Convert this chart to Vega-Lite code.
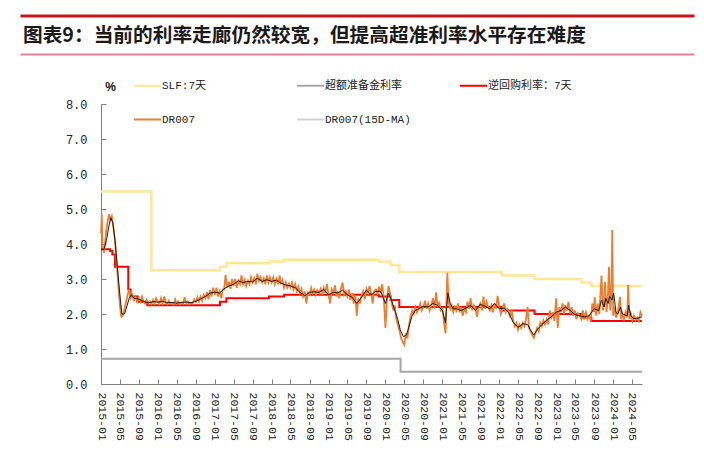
{
"$schema": "https://vega.github.io/schema/vega-lite/v6.json",
"width": 541, "height": 280,
"autosize": {"type": "none"},
"padding": {"left": 101, "top": 104, "right": 62, "bottom": 68},
"background": "white",
"title": {"text": "图表9：当前的利率走廊仍然较宽，但提高超准利率水平存在难度", "anchor": "start", "frame": "group", "dx": -78, "dy": 30, "offset": 0, "font": "Noto Sans CJK SC", "fontSize": 19.7, "fontWeight": "bold", "color": "#1a1a1a"},
"datasets": {
"slf": [{"d":"2015-01-01","v":5.5},{"d":"2015-11-20","v":3.25},{"d":"2017-02-03","v":3.35},{"d":"2017-03-16","v":3.45},{"d":"2017-12-14","v":3.5},{"d":"2018-03-22","v":3.55},{"d":"2019-11-18","v":3.5},{"d":"2020-02-03","v":3.4},{"d":"2020-03-30","v":3.2},{"d":"2022-01-17","v":3.1},{"d":"2022-08-15","v":3.0},{"d":"2023-06-13","v":2.9},{"d":"2023-08-15","v":2.8},{"d":"2024-07-04","v":2.8}],
"ior": [{"d":"2015-01-01","v":0.72},{"d":"2020-04-07","v":0.35},{"d":"2024-07-04","v":0.35}],
"rr": [{"d":"2015-01-01","v":3.85},{"d":"2015-03-01","v":3.8},{"d":"2015-03-15","v":3.7},{"d":"2015-04-01","v":3.35},{"d":"2015-06-25","v":2.7},{"d":"2015-07-10","v":2.5},{"d":"2015-08-25","v":2.35},{"d":"2015-10-25","v":2.25},{"d":"2017-02-03","v":2.35},{"d":"2017-03-16","v":2.45},{"d":"2017-12-14","v":2.5},{"d":"2018-03-22","v":2.55},{"d":"2019-11-18","v":2.5},{"d":"2020-02-03","v":2.4},{"d":"2020-03-30","v":2.2},{"d":"2022-01-17","v":2.1},{"d":"2022-08-15","v":2.0},{"d":"2023-06-13","v":1.9},{"d":"2023-08-15","v":1.8},{"d":"2024-07-04","v":1.8}],
"dr": [
{"d":"2015-01-01","v":4.3},{"d":"2015-01-06","v":4.85},{"d":"2015-01-11","v":3.9},{"d":"2015-01-21","v":3.75},
{"d":"2015-02-01","v":4.3},{"d":"2015-02-11","v":4.6},{"d":"2015-02-21","v":4.85},
{"d":"2015-03-01","v":4.7},{"d":"2015-03-11","v":4.8},{"d":"2015-03-21","v":4.5},
{"d":"2015-04-01","v":4.1},{"d":"2015-04-11","v":3.5},{"d":"2015-04-21","v":2.9},
{"d":"2015-05-01","v":2.3},{"d":"2015-05-11","v":1.92},{"d":"2015-05-21","v":1.95},
{"d":"2015-06-01","v":2.15},{"d":"2015-06-11","v":2.35},{"d":"2015-06-21","v":2.55},
{"d":"2015-07-01","v":2.7},{"d":"2015-07-11","v":2.45},{"d":"2015-07-21","v":2.55},
{"d":"2015-08-01","v":2.4},{"d":"2015-08-11","v":2.5},{"d":"2015-08-21","v":2.35},
{"d":"2015-09-01","v":2.45},{"d":"2015-09-11","v":2.35},{"d":"2015-09-21","v":2.5},
{"d":"2015-10-01","v":2.35},{"d":"2015-10-11","v":2.3},{"d":"2015-10-21","v":2.4},
{"d":"2015-11-01","v":2.3},{"d":"2015-11-11","v":2.36},{"d":"2015-11-21","v":2.28},
{"d":"2015-12-01","v":2.4},{"d":"2015-12-11","v":2.3},{"d":"2015-12-21","v":2.45},
{"d":"2016-01-01","v":2.35},{"d":"2016-01-11","v":2.28},{"d":"2016-01-21","v":2.45},
{"d":"2016-02-01","v":2.3},{"d":"2016-02-11","v":2.5},{"d":"2016-02-21","v":2.32},
{"d":"2016-03-01","v":2.28},{"d":"2016-03-11","v":2.38},{"d":"2016-03-21","v":2.3},
{"d":"2016-04-01","v":2.32},{"d":"2016-04-11","v":2.27},{"d":"2016-04-21","v":2.42},
{"d":"2016-05-01","v":2.3},{"d":"2016-05-11","v":2.36},{"d":"2016-05-21","v":2.28},
{"d":"2016-06-01","v":2.33},{"d":"2016-06-11","v":2.3},{"d":"2016-06-21","v":2.48},
{"d":"2016-07-01","v":2.3},{"d":"2016-07-11","v":2.36},{"d":"2016-07-21","v":2.28},
{"d":"2016-08-01","v":2.32},{"d":"2016-08-11","v":2.3},{"d":"2016-08-21","v":2.42},
{"d":"2016-09-01","v":2.35},{"d":"2016-09-11","v":2.48},{"d":"2016-09-21","v":2.36},
{"d":"2016-10-01","v":2.5},{"d":"2016-10-11","v":2.38},{"d":"2016-10-21","v":2.55},
{"d":"2016-11-01","v":2.45},{"d":"2016-11-11","v":2.62},{"d":"2016-11-21","v":2.42},
{"d":"2016-12-01","v":2.68},{"d":"2016-12-11","v":2.5},{"d":"2016-12-21","v":2.75},
{"d":"2017-01-01","v":2.55},{"d":"2017-01-11","v":2.75},{"d":"2017-01-21","v":2.5},
{"d":"2017-02-01","v":2.65},{"d":"2017-02-11","v":2.45},{"d":"2017-02-21","v":2.7},
{"d":"2017-03-01","v":2.7},{"d":"2017-03-11","v":3.12},{"d":"2017-03-21","v":2.75},
{"d":"2017-04-01","v":2.92},{"d":"2017-04-11","v":2.72},{"d":"2017-04-21","v":3.0},
{"d":"2017-05-01","v":2.8},{"d":"2017-05-11","v":3.0},{"d":"2017-05-21","v":2.75},
{"d":"2017-06-01","v":2.95},{"d":"2017-06-11","v":2.85},{"d":"2017-06-21","v":3.1},
{"d":"2017-07-01","v":2.85},{"d":"2017-07-11","v":2.97},{"d":"2017-07-21","v":2.8},
{"d":"2017-08-01","v":2.95},{"d":"2017-08-11","v":2.85},{"d":"2017-08-21","v":3.05},
{"d":"2017-09-01","v":2.9},{"d":"2017-09-11","v":3.02},{"d":"2017-09-21","v":2.85},
{"d":"2017-10-01","v":3.15},{"d":"2017-10-11","v":2.95},{"d":"2017-10-21","v":3.05},
{"d":"2017-11-01","v":2.9},{"d":"2017-11-11","v":3.02},{"d":"2017-11-21","v":2.85},
{"d":"2017-12-01","v":3.1},{"d":"2017-12-11","v":2.9},{"d":"2017-12-21","v":3.05},
{"d":"2018-01-01","v":2.9},{"d":"2018-01-11","v":3.05},{"d":"2018-01-21","v":2.85},
{"d":"2018-02-01","v":3.0},{"d":"2018-02-11","v":2.85},{"d":"2018-02-21","v":3.1},
{"d":"2018-03-01","v":2.85},{"d":"2018-03-11","v":2.97},{"d":"2018-03-21","v":2.75},
{"d":"2018-04-01","v":2.9},{"d":"2018-04-11","v":2.75},{"d":"2018-04-21","v":2.87},
{"d":"2018-05-01","v":2.75},{"d":"2018-05-11","v":2.9},{"d":"2018-05-21","v":2.7},
{"d":"2018-06-01","v":2.85},{"d":"2018-06-11","v":2.65},{"d":"2018-06-21","v":2.78},
{"d":"2018-07-01","v":2.6},{"d":"2018-07-11","v":2.72},{"d":"2018-07-21","v":2.5},
{"d":"2018-08-01","v":2.65},{"d":"2018-08-11","v":2.3},{"d":"2018-08-21","v":2.6},
{"d":"2018-09-01","v":2.55},{"d":"2018-09-11","v":2.75},{"d":"2018-09-21","v":2.6},
{"d":"2018-10-01","v":2.7},{"d":"2018-10-11","v":2.55},{"d":"2018-10-21","v":2.68},
{"d":"2018-11-01","v":2.6},{"d":"2018-11-11","v":2.72},{"d":"2018-11-21","v":2.55},
{"d":"2018-12-01","v":2.75},{"d":"2018-12-11","v":2.6},{"d":"2018-12-21","v":2.85},
{"d":"2019-01-01","v":2.55},{"d":"2019-01-11","v":2.3},{"d":"2019-01-21","v":2.7},
{"d":"2019-02-01","v":2.6},{"d":"2019-02-11","v":2.82},{"d":"2019-02-21","v":2.5},
{"d":"2019-03-01","v":2.65},{"d":"2019-03-11","v":2.45},{"d":"2019-03-21","v":2.72},
{"d":"2019-04-01","v":2.9},{"d":"2019-04-11","v":2.55},{"d":"2019-04-21","v":2.65},
{"d":"2019-05-01","v":2.5},{"d":"2019-05-11","v":2.7},{"d":"2019-05-21","v":2.4},
{"d":"2019-06-01","v":2.6},{"d":"2019-06-11","v":2.3},{"d":"2019-06-21","v":2.55},
{"d":"2019-07-01","v":1.95},{"d":"2019-07-11","v":2.45},{"d":"2019-07-21","v":2.3},
{"d":"2019-08-01","v":2.55},{"d":"2019-08-11","v":2.65},{"d":"2019-08-21","v":2.42},
{"d":"2019-09-01","v":2.72},{"d":"2019-09-11","v":2.6},{"d":"2019-09-21","v":2.8},
{"d":"2019-10-01","v":2.6},{"d":"2019-10-11","v":2.3},{"d":"2019-10-21","v":2.65},
{"d":"2019-11-01","v":2.7},{"d":"2019-11-11","v":2.55},{"d":"2019-11-21","v":2.78},
{"d":"2019-12-01","v":2.6},{"d":"2019-12-11","v":2.85},{"d":"2019-12-21","v":2.5},
{"d":"2020-01-01","v":1.6},{"d":"2020-01-11","v":2.45},{"d":"2020-01-21","v":2.8},
{"d":"2020-02-01","v":2.55},{"d":"2020-02-11","v":2.3},{"d":"2020-02-21","v":2.1},
{"d":"2020-03-01","v":2.25},{"d":"2020-03-11","v":1.85},{"d":"2020-03-21","v":1.7},
{"d":"2020-04-01","v":1.5},{"d":"2020-04-11","v":1.3},{"d":"2020-04-21","v":1.2},
{"d":"2020-05-01","v":1.12},{"d":"2020-05-11","v":1.45},{"d":"2020-05-21","v":1.3},
{"d":"2020-06-01","v":1.7},{"d":"2020-06-11","v":1.95},{"d":"2020-06-21","v":2.1},
{"d":"2020-07-01","v":2.0},{"d":"2020-07-11","v":2.2},{"d":"2020-07-21","v":2.05},
{"d":"2020-08-01","v":2.15},{"d":"2020-08-11","v":2.3},{"d":"2020-08-21","v":2.1},
{"d":"2020-09-01","v":2.2},{"d":"2020-09-11","v":2.38},{"d":"2020-09-21","v":2.15},
{"d":"2020-10-01","v":2.3},{"d":"2020-10-11","v":2.1},{"d":"2020-10-21","v":2.25},
{"d":"2020-11-01","v":2.45},{"d":"2020-11-11","v":2.15},{"d":"2020-11-21","v":2.62},
{"d":"2020-12-01","v":2.2},{"d":"2020-12-11","v":2.35},{"d":"2020-12-21","v":2.1},
{"d":"2021-01-01","v":2.15},{"d":"2021-01-11","v":1.75},{"d":"2021-01-21","v":1.45},
{"d":"2021-02-01","v":3.18},{"d":"2021-02-11","v":2.3},{"d":"2021-02-21","v":2.15},
{"d":"2021-03-01","v":2.25},{"d":"2021-03-11","v":2.05},{"d":"2021-03-21","v":2.2},
{"d":"2021-04-01","v":2.1},{"d":"2021-04-11","v":2.3},{"d":"2021-04-21","v":2.05},
{"d":"2021-05-01","v":2.2},{"d":"2021-05-11","v":1.95},{"d":"2021-05-21","v":2.15},
{"d":"2021-06-01","v":2.05},{"d":"2021-06-11","v":2.35},{"d":"2021-06-21","v":2.15},
{"d":"2021-07-01","v":2.45},{"d":"2021-07-11","v":2.1},{"d":"2021-07-21","v":2.25},
{"d":"2021-08-01","v":2.15},{"d":"2021-08-11","v":1.92},{"d":"2021-08-21","v":2.2},
{"d":"2021-09-01","v":2.3},{"d":"2021-09-11","v":2.1},{"d":"2021-09-21","v":2.5},
{"d":"2021-10-01","v":2.15},{"d":"2021-10-11","v":2.35},{"d":"2021-10-21","v":2.2},
{"d":"2021-11-01","v":2.1},{"d":"2021-11-11","v":2.25},{"d":"2021-11-21","v":2.05},
{"d":"2021-12-01","v":2.3},{"d":"2021-12-11","v":2.15},{"d":"2021-12-21","v":2.52},
{"d":"2022-01-01","v":2.2},{"d":"2022-01-11","v":2.0},{"d":"2022-01-21","v":2.15},
{"d":"2022-02-01","v":2.3},{"d":"2022-02-11","v":2.05},{"d":"2022-02-21","v":2.15},
{"d":"2022-03-01","v":2.1},{"d":"2022-03-11","v":1.9},{"d":"2022-03-21","v":2.1},
{"d":"2022-04-01","v":1.8},{"d":"2022-04-11","v":1.65},{"d":"2022-04-21","v":1.75},
{"d":"2022-05-01","v":1.55},{"d":"2022-05-11","v":1.7},{"d":"2022-05-21","v":1.6},
{"d":"2022-06-01","v":1.75},{"d":"2022-06-11","v":1.65},{"d":"2022-06-21","v":1.85},
{"d":"2022-07-01","v":2.2},{"d":"2022-07-11","v":1.6},{"d":"2022-07-21","v":1.5},
{"d":"2022-08-01","v":1.4},{"d":"2022-08-11","v":1.32},{"d":"2022-08-21","v":1.45},
{"d":"2022-09-01","v":1.6},{"d":"2022-09-11","v":1.5},{"d":"2022-09-21","v":1.75},
{"d":"2022-10-01","v":1.65},{"d":"2022-10-11","v":1.82},{"d":"2022-10-21","v":1.7},
{"d":"2022-11-01","v":1.85},{"d":"2022-11-11","v":1.7},{"d":"2022-11-21","v":2.1},
{"d":"2022-12-01","v":1.9},{"d":"2022-12-11","v":2.05},{"d":"2022-12-21","v":1.8},
{"d":"2023-01-01","v":2.45},{"d":"2023-01-11","v":1.6},{"d":"2023-01-21","v":2.2},
{"d":"2023-02-01","v":2.05},{"d":"2023-02-11","v":2.3},{"d":"2023-02-21","v":2.0},
{"d":"2023-03-01","v":2.25},{"d":"2023-03-11","v":2.1},{"d":"2023-03-21","v":2.35},
{"d":"2023-04-01","v":2.0},{"d":"2023-04-11","v":2.2},{"d":"2023-04-21","v":1.95},
{"d":"2023-05-01","v":2.1},{"d":"2023-05-11","v":1.85},{"d":"2023-05-21","v":2.02},
{"d":"2023-06-01","v":1.95},{"d":"2023-06-11","v":1.85},{"d":"2023-06-21","v":2.1},
{"d":"2023-07-01","v":1.9},{"d":"2023-07-11","v":2.05},{"d":"2023-07-21","v":1.85},
{"d":"2023-08-01","v":1.95},{"d":"2023-08-11","v":1.85},{"d":"2023-08-21","v":2.3},
{"d":"2023-09-01","v":2.05},{"d":"2023-09-05","v":2.48},{"d":"2023-09-15","v":1.95},{"d":"2023-09-25","v":2.3},
{"d":"2023-10-05","v":2.0},{"d":"2023-10-19","v":3.1},{"d":"2023-10-28","v":2.1},
{"d":"2023-11-05","v":2.35},{"d":"2023-11-10","v":2.92},{"d":"2023-11-20","v":2.05},{"d":"2023-11-28","v":2.4},
{"d":"2023-12-06","v":3.35},{"d":"2023-12-14","v":2.1},{"d":"2023-12-21","v":2.45},{"d":"2023-12-27","v":4.4},
{"d":"2024-01-02","v":1.95},{"d":"2024-01-11","v":2.2},{"d":"2024-01-21","v":1.9},
{"d":"2024-02-01","v":2.05},{"d":"2024-02-15","v":2.49},{"d":"2024-02-21","v":1.85},
{"d":"2024-03-01","v":2.0},{"d":"2024-03-11","v":1.85},{"d":"2024-03-21","v":2.05},
{"d":"2024-04-01","v":1.9},{"d":"2024-04-07","v":2.83},{"d":"2024-04-15","v":1.85},{"d":"2024-04-25","v":2.0},
{"d":"2024-05-05","v":1.8},{"d":"2024-05-15","v":1.95},{"d":"2024-05-25","v":1.82},
{"d":"2024-06-05","v":1.9},{"d":"2024-06-15","v":1.8},{"d":"2024-06-25","v":2.05},{"d":"2024-07-04","v":1.95}
],
"ma": [
{"d":"2015-01-01","v":3.85},{"d":"2015-01-20","v":3.85},{"d":"2015-02-05","v":4.1},{"d":"2015-02-20","v":4.5},{"d":"2015-03-05","v":4.75},{"d":"2015-03-18","v":4.6},{"d":"2015-04-01","v":4.1},{"d":"2015-04-15","v":3.4},{"d":"2015-05-01","v":2.6},{"d":"2015-05-15","v":2.0},{"d":"2015-06-01","v":2.0},{"d":"2015-06-15","v":2.2},{"d":"2015-07-01","v":2.45},{"d":"2015-07-15","v":2.55},{"d":"2015-08-01","v":2.45},{"d":"2015-09-01","v":2.42},{"d":"2015-10-01","v":2.36},{"d":"2015-11-01","v":2.32},{"d":"2015-12-01","v":2.35},
{"d":"2016-01-01","v":2.34},{"d":"2016-02-01","v":2.36},{"d":"2016-03-01","v":2.32},{"d":"2016-04-01","v":2.33},{"d":"2016-05-01","v":2.31},{"d":"2016-06-01","v":2.33},{"d":"2016-07-01","v":2.34},{"d":"2016-08-01","v":2.32},{"d":"2016-09-01","v":2.36},{"d":"2016-10-01","v":2.43},{"d":"2016-11-01","v":2.5},{"d":"2016-12-01","v":2.6},
{"d":"2017-01-01","v":2.62},{"d":"2017-02-01","v":2.6},{"d":"2017-03-01","v":2.72},{"d":"2017-04-01","v":2.8},{"d":"2017-05-01","v":2.85},{"d":"2017-06-01","v":2.95},{"d":"2017-07-01","v":2.9},{"d":"2017-08-01","v":2.93},{"d":"2017-09-01","v":2.92},{"d":"2017-10-01","v":3.02},{"d":"2017-11-01","v":2.93},{"d":"2017-12-01","v":2.98},
{"d":"2018-01-01","v":2.93},{"d":"2018-02-01","v":2.97},{"d":"2018-03-01","v":2.88},{"d":"2018-04-01","v":2.83},{"d":"2018-05-01","v":2.8},{"d":"2018-06-01","v":2.75},{"d":"2018-07-01","v":2.62},{"d":"2018-08-01","v":2.52},{"d":"2018-09-01","v":2.62},{"d":"2018-10-01","v":2.63},{"d":"2018-11-01","v":2.62},{"d":"2018-12-01","v":2.7},
{"d":"2019-01-01","v":2.55},{"d":"2019-02-01","v":2.62},{"d":"2019-03-01","v":2.6},{"d":"2019-04-01","v":2.68},{"d":"2019-05-01","v":2.55},{"d":"2019-06-01","v":2.48},{"d":"2019-07-01","v":2.3},{"d":"2019-08-01","v":2.48},{"d":"2019-09-01","v":2.68},{"d":"2019-10-01","v":2.55},{"d":"2019-11-01","v":2.65},{"d":"2019-12-01","v":2.65},
{"d":"2020-01-01","v":2.3},{"d":"2020-01-20","v":2.6},{"d":"2020-02-05","v":2.45},{"d":"2020-03-01","v":2.1},{"d":"2020-03-20","v":1.85},{"d":"2020-04-05","v":1.55},{"d":"2020-04-25","v":1.35},{"d":"2020-05-15","v":1.4},{"d":"2020-06-01","v":1.65},{"d":"2020-06-20","v":1.95},{"d":"2020-07-10","v":2.1},{"d":"2020-08-01","v":2.15},{"d":"2020-09-01","v":2.22},{"d":"2020-10-01","v":2.2},{"d":"2020-11-01","v":2.3},{"d":"2020-12-01","v":2.25},
{"d":"2021-01-01","v":2.1},{"d":"2021-01-20","v":1.75},{"d":"2021-02-05","v":2.6},{"d":"2021-02-20","v":2.3},{"d":"2021-03-10","v":2.15},{"d":"2021-04-01","v":2.15},{"d":"2021-05-01","v":2.1},{"d":"2021-06-01","v":2.17},{"d":"2021-07-01","v":2.25},{"d":"2021-08-01","v":2.1},{"d":"2021-09-01","v":2.28},{"d":"2021-10-01","v":2.22},{"d":"2021-11-01","v":2.15},{"d":"2021-12-01","v":2.3},
{"d":"2022-01-01","v":2.15},{"d":"2022-02-01","v":2.17},{"d":"2022-03-01","v":2.05},{"d":"2022-04-01","v":1.75},{"d":"2022-05-01","v":1.62},{"d":"2022-06-01","v":1.72},{"d":"2022-07-01","v":1.7},{"d":"2022-07-20","v":1.55},{"d":"2022-08-10","v":1.4},{"d":"2022-09-01","v":1.55},{"d":"2022-10-01","v":1.7},{"d":"2022-11-01","v":1.82},{"d":"2022-12-01","v":1.92},
{"d":"2023-01-01","v":2.05},{"d":"2023-02-01","v":2.1},{"d":"2023-03-01","v":2.2},{"d":"2023-04-01","v":2.1},{"d":"2023-05-01","v":1.98},{"d":"2023-06-01","v":1.95},{"d":"2023-07-01","v":1.92},{"d":"2023-08-01","v":1.95},{"d":"2023-09-01","v":2.15},{"d":"2023-10-01","v":2.1},{"d":"2023-10-20","v":2.4},{"d":"2023-11-05","v":2.2},{"d":"2023-11-15","v":2.45},{"d":"2023-12-01","v":2.3},{"d":"2023-12-10","v":2.5},{"d":"2023-12-25","v":2.4},
{"d":"2024-01-05","v":2.6},{"d":"2024-01-20","v":2.05},{"d":"2024-02-01","v":2.0},{"d":"2024-02-18","v":2.2},{"d":"2024-03-01","v":2.0},{"d":"2024-04-01","v":1.95},{"d":"2024-04-10","v":2.25},{"d":"2024-04-25","v":1.95},{"d":"2024-05-10","v":1.88},{"d":"2024-06-01","v":1.87},{"d":"2024-06-20","v":1.9},{"d":"2024-07-04","v":1.92}
],
"deco1": [{"k":0},{"k":1}],
"deco2": [{"j":0},{"j":1}]
},
"layer": [
{
"encoding": {
"x": {"field": "d", "type": "temporal",
"scale": {"type": "utc", "domain": [{"year":2015,"month":1,"date":1,"utc":true},{"year":2024,"month":7,"date":5,"utc":true}]},
"axis": {"orient": "bottom", "title": null, "format": "%Y-%m", "labelAngle": 90, "labelFont": "Liberation Mono", "labelFontSize": 11.5, "labelColor": "#222", "tickSize": -5, "labelPadding": 13, "domainColor": "#808080", "tickColor": "#808080", "grid": false,
"values": [{"year":2015,"month":1,"date":1,"utc":true},{"year":2015,"month":5,"date":1,"utc":true},{"year":2015,"month":9,"date":1,"utc":true},{"year":2016,"month":1,"date":1,"utc":true},{"year":2016,"month":5,"date":1,"utc":true},{"year":2016,"month":9,"date":1,"utc":true},{"year":2017,"month":1,"date":1,"utc":true},{"year":2017,"month":5,"date":1,"utc":true},{"year":2017,"month":9,"date":1,"utc":true},{"year":2018,"month":1,"date":1,"utc":true},{"year":2018,"month":5,"date":1,"utc":true},{"year":2018,"month":9,"date":1,"utc":true},{"year":2019,"month":1,"date":1,"utc":true},{"year":2019,"month":5,"date":1,"utc":true},{"year":2019,"month":9,"date":1,"utc":true},{"year":2020,"month":1,"date":1,"utc":true},{"year":2020,"month":5,"date":1,"utc":true},{"year":2020,"month":9,"date":1,"utc":true},{"year":2021,"month":1,"date":1,"utc":true},{"year":2021,"month":5,"date":1,"utc":true},{"year":2021,"month":9,"date":1,"utc":true},{"year":2022,"month":1,"date":1,"utc":true},{"year":2022,"month":5,"date":1,"utc":true},{"year":2022,"month":9,"date":1,"utc":true},{"year":2023,"month":1,"date":1,"utc":true},{"year":2023,"month":5,"date":1,"utc":true},{"year":2023,"month":9,"date":1,"utc":true},{"year":2024,"month":1,"date":1,"utc":true},{"year":2024,"month":5,"date":1,"utc":true}]}},
"y": {"field": "v", "type": "quantitative",
"scale": {"domain": [0, 8], "nice": false, "zero": true},
"axis": {"title": "%", "titleAngle": 0, "titleX": 9, "titleY": -18, "titleAlign": "center", "titleBaseline": "middle", "titleFont": "Liberation Sans", "titleFontSize": 12, "titleFontWeight": "bold", "titleColor": "#111",
"values": [0,1,2,3,4,5,6,7,8], "format": ".1f", "labelFont": "Liberation Mono", "labelFontSize": 12, "labelColor": "#222", "tickSize": -5, "labelPadding": 19, "domainColor": "#808080", "tickColor": "#808080", "grid": false}}
},
"layer": [
{"data": {"name": "slf"}, "mark": {"type": "line", "interpolate": "step-after", "strokeWidth": 2.5},
 "encoding": {"color": {"datum": "SLF:7天", "type": "nominal",
  "scale": {"domain": ["SLF:7天", "超额准备金利率", "逆回购利率：7天", "DR007", "DR007(15D-MA)"], "range": ["#FFE699", "#A6A6A6", "#FF0000", "#ED7D31", "#D0D0D0"]},
  "legend": {"orient": "none", "legendX": 32, "legendY": -33, "columns": 3, "direction": "horizontal", "title": null, "padding": 0, "gridAlign": "all", "columnPadding": 45, "rowPadding": 14, "symbolType": "stroke", "symbolSize": 729, "symbolStrokeWidth": 2, "labelOffset": 0, "labelFont": "Liberation Mono, Noto Sans CJK SC", "labelFontSize": 11, "labelColor": "#222"}}}},
{"data": {"name": "ior"}, "mark": {"type": "line", "interpolate": "step-after", "strokeWidth": 2},
 "encoding": {"color": {"datum": "超额准备金利率", "type": "nominal"}}},
{"data": {"name": "rr"}, "mark": {"type": "line", "interpolate": "step-after", "strokeWidth": 2},
 "encoding": {"color": {"datum": "逆回购利率：7天", "type": "nominal"}}},
{"data": {"name": "dr"}, "mark": {"type": "line", "strokeWidth": 1.8},
 "encoding": {"color": {"datum": "DR007", "type": "nominal"}}},
{"data": {"name": "ma"}, "mark": {"type": "line", "strokeWidth": 1, "color": "#1a1a1a"},
 "encoding": {}}
]
},
{"data": {"name": "deco1"}, "mark": {"type": "point", "opacity": 0},
 "encoding": {"x": {"field": "k", "type": "quantitative", "scale": {"domain": [0, 1], "range": [-81, 593], "nice": false, "zero": false},
  "axis": {"orient": "top", "offset": 88.5, "domain": true, "domainColor": "#C8161D", "domainWidth": 3, "ticks": false, "labels": false, "title": null, "grid": false}}}},
{"data": {"name": "deco2"}, "mark": {"type": "point", "opacity": 0},
 "encoding": {"x": {"field": "j", "type": "quantitative", "scale": {"domain": [0, 1], "range": [-81, 593], "nice": false, "zero": false},
  "axis": {"orient": "bottom", "offset": -330, "domain": true, "domainColor": "#E3868B", "domainWidth": 2, "ticks": false, "labels": false, "title": null, "grid": false}}}}
],
"resolve": {"scale": {"x": "independent"}},
"config": {"view": {"stroke": null}, "axis": {"grid": false}}
}
